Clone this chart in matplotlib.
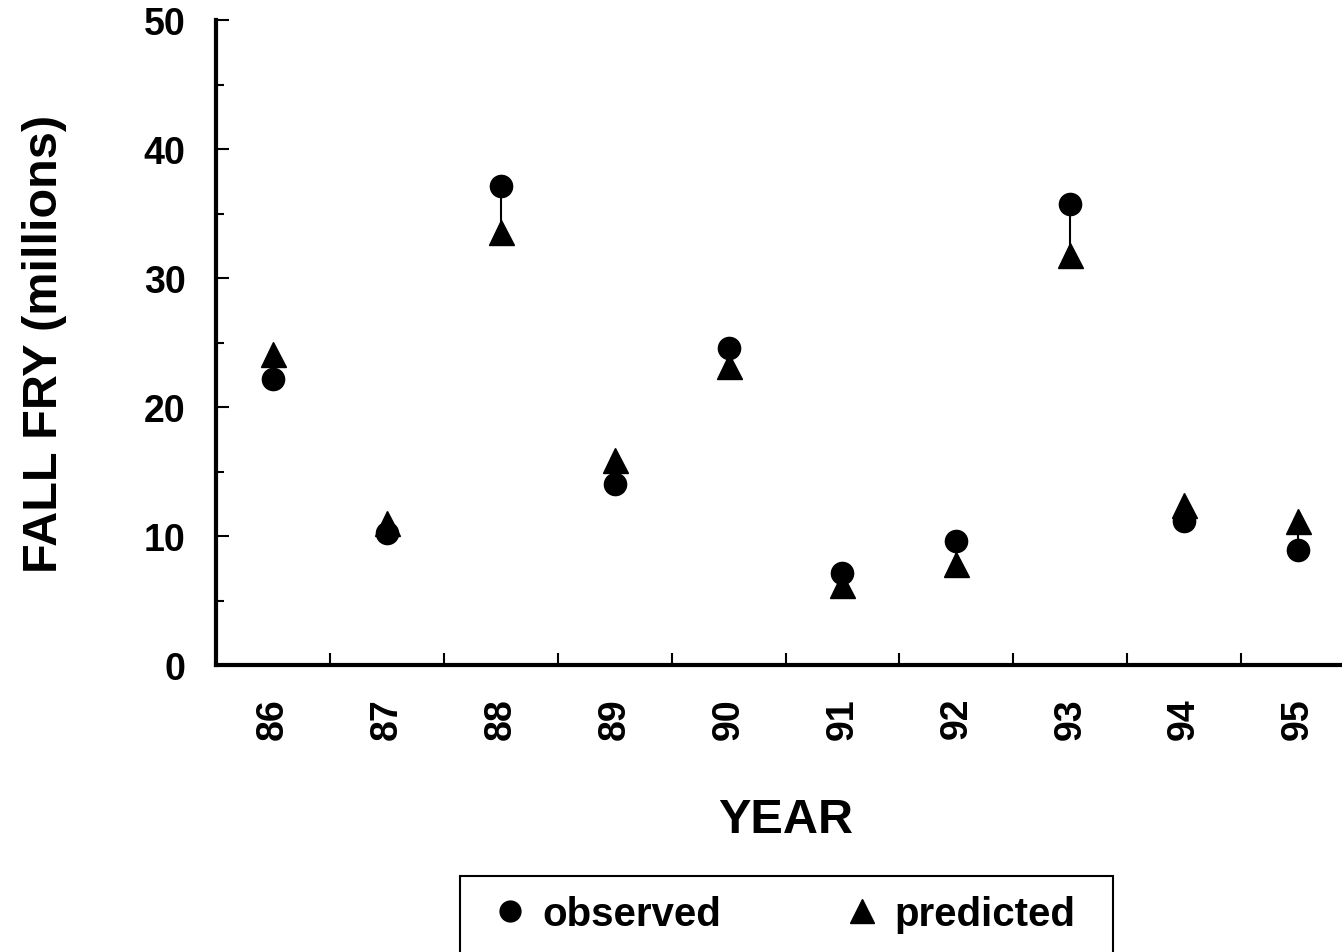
import matplotlib.pyplot as plt
import numpy as np
from matplotlib.patches import Rectangle
from matplotlib.lines import Line2D

years = ["86", "87", "88", "89", "90", "91", "92", "93", "94", "95"]
observed = [22.2, 10.2, 37.1, 14.0, 24.6, 7.1, 9.6, 35.7, 11.2, 8.9]
predicted = [24.1, 11.0, 33.6, 15.9, 23.2, 6.2, 7.8, 31.8, 12.4, 11.2]

plt.rcParams["font.family"] = ["Liberation Sans", "DejaVu Sans"]
plt.rcParams["font.weight"] = "bold"

fig = plt.figure(figsize=(13.42, 9.53), dpi=100)
ax = fig.add_axes([216 / 1342, 1 - 666 / 953, (1355 - 216) / 1342, (666 - 21) / 953])

x = np.arange(len(years))
ax.vlines(x, observed, predicted, color="black", lw=1.5, zorder=2)
ax.plot(x, observed, "o", color="black", ms=16, zorder=3)
ax.plot(x, predicted, "^", color="black", ms=18, zorder=3)

ax.set_xlim(-0.5, len(years) - 0.5)
ax.set_ylim(0, 50)

# boundaries carry the tick marks, centres carry the labels
ax.set_xticks(np.arange(0.5, len(years) - 0.5, 1.0))
ax.set_xticklabels([])
ax.set_xticks(x, minor=True)
ax.set_xticklabels(years, minor=True, rotation=90, fontsize=27, fontweight="bold")
ax.tick_params(axis="x", which="major", direction="in", length=9, width=1.5)
ax.tick_params(axis="x", which="minor", length=0, pad=23)

ax.set_yticks(np.arange(0, 51, 10))
ax.set_yticks(np.arange(5, 50, 10), minor=True)
ax.tick_params(axis="y", which="major", direction="in", length=9, width=1.5, pad=22, labelsize=27)
ax.tick_params(axis="y", which="minor", direction="in", length=6, width=1.5)
for lab in ax.get_yticklabels():
    lab.set_fontweight("bold")

for side in ["top", "right"]:
    ax.spines[side].set_visible(False)
ax.spines["left"].set_linewidth(3)
ax.spines["bottom"].set_linewidth(3)

ax.set_xlabel("YEAR", fontsize=35, fontweight="bold", labelpad=42)
ax.set_ylabel("FALL FRY (millions)", fontsize=35, fontweight="bold", labelpad=55)

# legend box, cut off by the bottom edge like the original
fig.patches.append(Rectangle((460 / 1342, -0.05), (1113 - 460) / 1342, (1 - 877 / 953) + 0.05,
                             transform=fig.transFigure, fill=False, ec="black", lw=1.5))
handles = [Line2D([], [], ls="none", marker="o", color="black", ms=15),
           Line2D([], [], ls="none", marker="^", color="black", ms=17)]
fig.legend(handles, ["observed", "predicted"], ncol=2, frameon=False,
           loc="center", bbox_to_anchor=(787 / 1342, 1 - 915 / 953),
           prop={"size": 29, "weight": "bold"}, handlelength=0.6, handletextpad=0.5,
           columnspacing=3.2)

fig.savefig("out.png", dpi=100)
